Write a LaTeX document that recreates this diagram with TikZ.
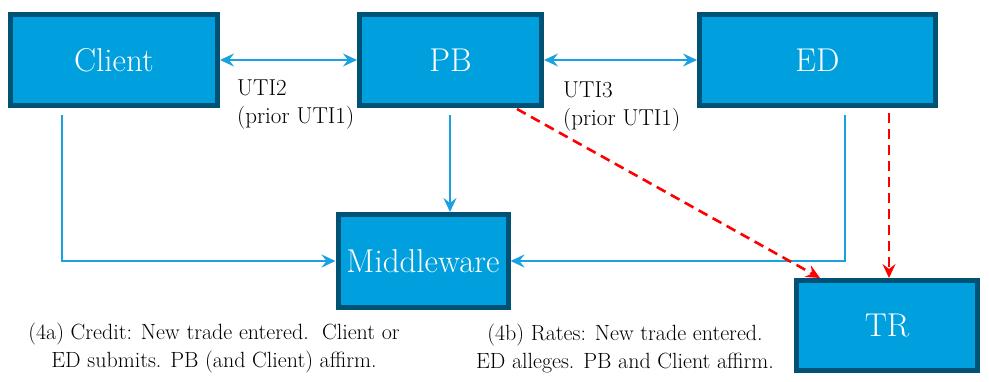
\documentclass[tikz,border=0pt]{standalone}
\usetikzlibrary{arrows.meta,positioning}
\definecolor{boxfill}{HTML}{00A0DE}
\definecolor{boxline}{HTML}{005274}
\definecolor{flowblue}{HTML}{1BA1E2}
\begin{document}
\begin{tikzpicture}[x = 1pt, y = -1pt,
  party/.style = {draw = boxline, fill = boxfill, line width = 5pt,
                  text = white, font = \fontsize{33}{36}\selectfont,
                  inner sep = 0pt},
  flow/.style  = {draw = flowblue, line width = 2.2pt, -{Stealth[length = 14pt, width = 13pt, inset = 5pt]}},
  both/.style  = {flow, {Stealth[length = 14pt, width = 13pt, inset = 5pt]}-{Stealth[length = 14pt, width = 13pt, inset = 5pt]}},
  report/.style = {draw = red, line width = 2.6pt, dash pattern = on 10pt off 6pt,
                  -{Stealth[length = 14pt, width = 13pt, inset = 5pt]}},
  note/.style  = {font = \fontsize{23}{28}\selectfont, inner sep = 0pt},
  caption/.style = {font = \fontsize{22}{28}\selectfont, inner sep = 0pt, align = center}]
  \useasboundingbox (0,0) rectangle (989,381);
  % parties
  \node [party, minimum width = 207pt, minimum height = 91pt] (Client) at (114,60) {Client};
  \node [party, minimum width = 182pt, minimum height = 91pt] (PB) at (450.5,60) {PB};
  \node [party, minimum width = 236pt, minimum height = 91pt] (ED) at (817.5,60) {ED};
  \node [party, minimum width = 170pt, minimum height = 93pt] (Middleware) at (423,261) {Middleware};
  \node [party, minimum width = 181pt, minimum height = 90pt] (TR) at (887,325.5) {TR};
  % UTI links
  \draw [both] (Client) -- (PB);
  \draw [both] (PB) -- (ED);
  \node [note, align = left, anchor = north west] (uti2) at (237,80) {UTI2\\(prior UTI1)};
  \node [note, align = left, anchor = north west] (uti3) at (563,82) {UTI3\\(prior UTI1)};
  % submissions to middleware
  \coordinate (clientout) at (62,115);
  \coordinate (pbout) at (450,115);
  \coordinate (edout) at (845,115);
  \draw [flow] (clientout) |- (Middleware.west);
  \draw [flow] (pbout) -- (pbout |- Middleware.north);
  \draw [flow] (edout) |- (Middleware.east);
  % reporting
  \coordinate (pbrep) at (517,109);
  \coordinate (edrep) at (889,113);
  \coordinate (trin) at (820,0);
  \draw [report] (pbrep) -- (trin |- TR.north);
  \draw [report] (edrep) -- (edrep |- TR.north);
  % captions
  \node [caption] (capA) at (214,348) {(4a) Credit: New trade entered.~~Client or\\ED submits. PB (and Client) affirm.};
  \node [caption] (capB) at (625,348) {(4b) Rates: New trade entered.\\ED alleges. PB and Client affirm.};
\end{tikzpicture}
\end{document}
